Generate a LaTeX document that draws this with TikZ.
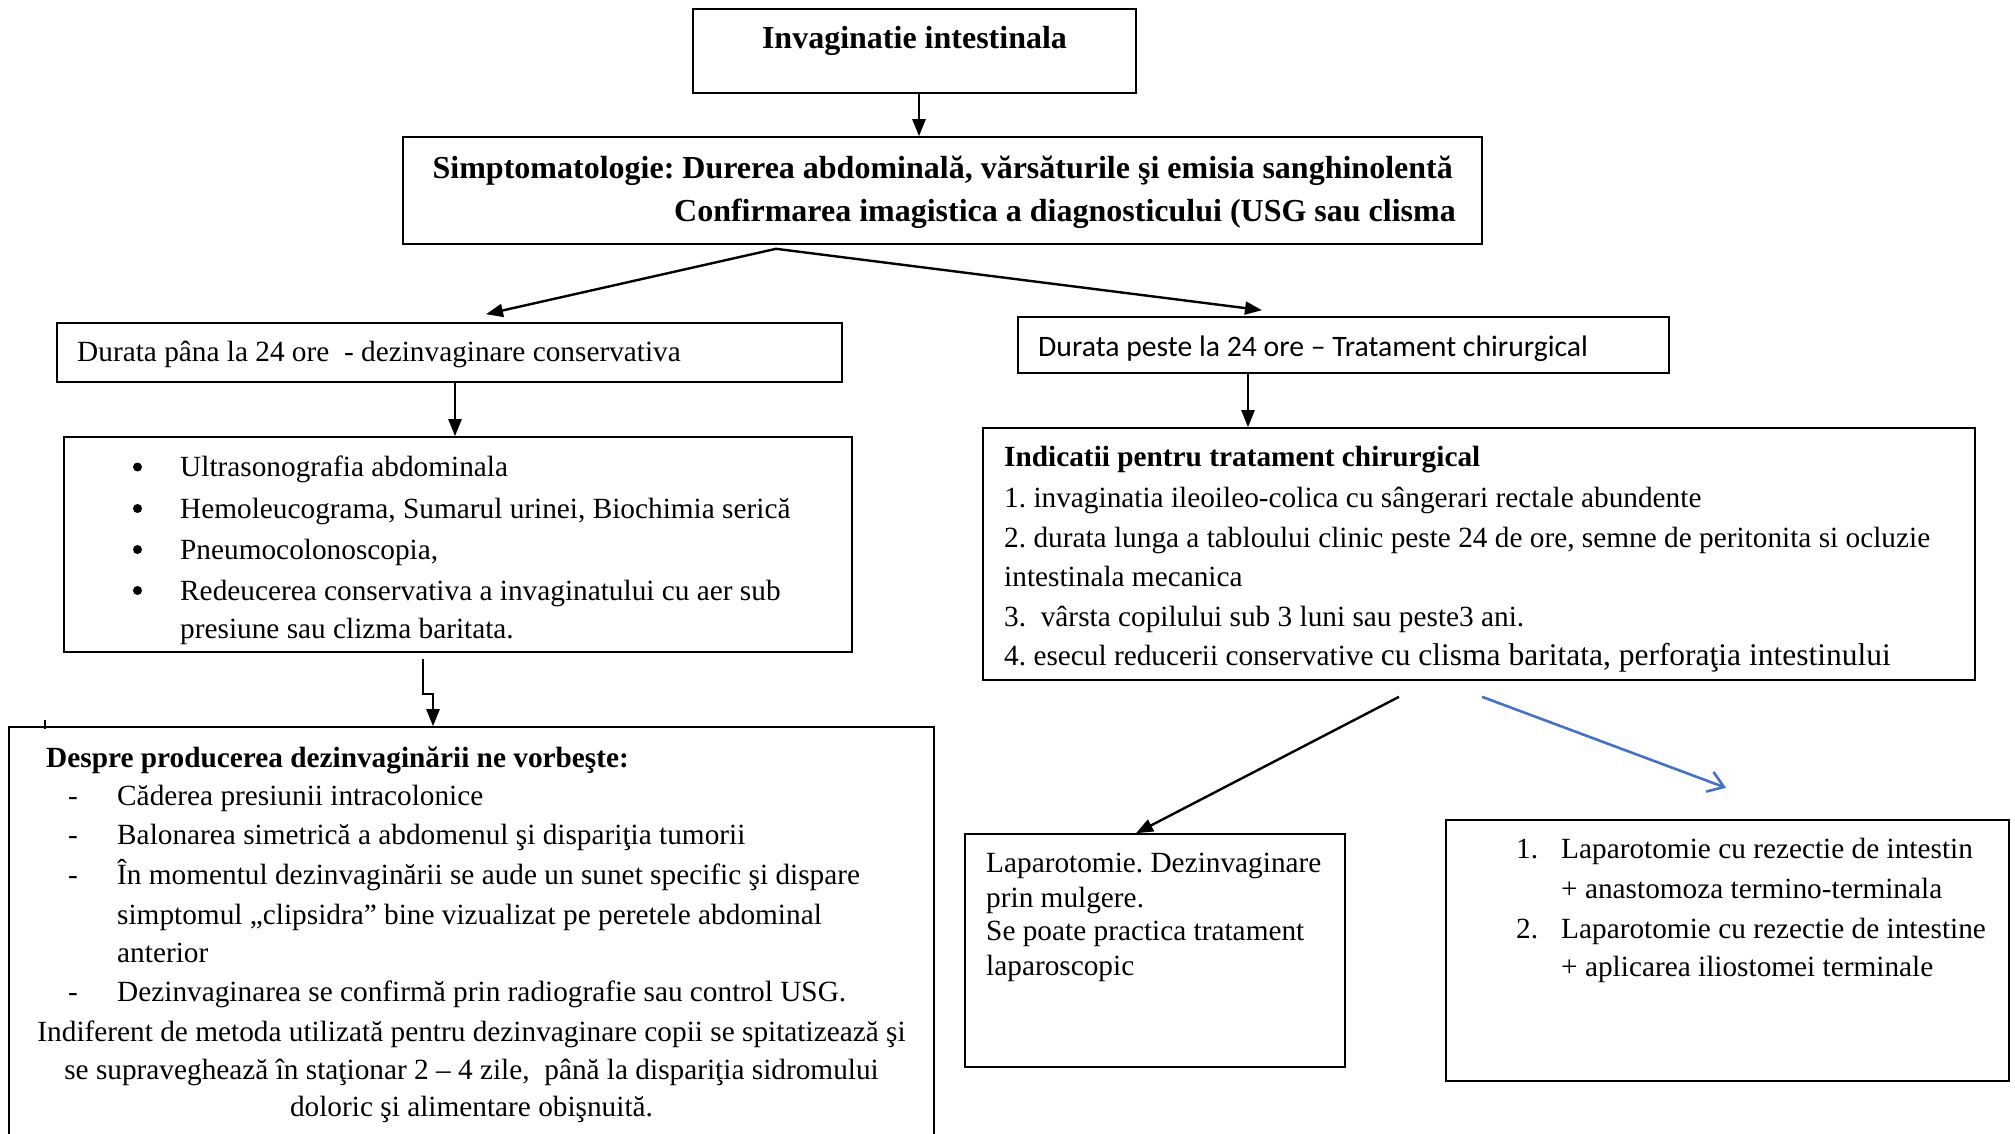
\documentclass[tikz,border=0pt]{standalone}
\usepackage{fontspec}
\setmainfont{Liberation Serif}
\newfontfamily\calib{Carlito}
\usetikzlibrary{arrows.meta,calc}
\definecolor{wordblue}{HTML}{4472C4}
\frenchspacing
\begin{document}
\begin{tikzpicture}[x=1pt,y=-1pt,
  box/.style={draw,line width=1.6pt,inner sep=0pt},
  conn/.style={line width=2.4pt,line join=miter,-{Triangle[length=17pt,width=13pt]}},
  t/.style={inner sep=0pt,anchor=base west,font=\fontsize{29.3}{35}\selectfont},
  tb/.style={inner sep=0pt,anchor=base west,font=\fontsize{29.3}{35}\selectfont\bfseries},
  tbig/.style={inner sep=0pt,anchor=base west,font=\fontsize{32}{38}\selectfont\bfseries},
  bul/.style={inner sep=0pt,anchor=base,font=\fontsize{29.3}{35}\selectfont},
  dot/.style={circle,fill,inner sep=0pt,minimum size=9pt},
]
\useasboundingbox (0,0) rectangle (2015,1133);
\fill[white] (0,0) rectangle (2015,1133);

% boxes
\node[box,minimum width=443pt,minimum height=84pt] (top) at (914.5,51) {};
\node[box,minimum width=1079pt,minimum height=107pt] (sym) at (942.5,190.5) {};
\node[box,minimum width=785pt,minimum height=59pt] (dl) at (449.5,352.5) {};
\node[box,minimum width=651pt,minimum height=56pt] (dr) at (1343.5,345) {};
\node[box,minimum width=788pt,minimum height=215pt] (bul) at (458,544.5) {};
\node[box,minimum width=992pt,minimum height=252pt] (ind) at (1479,554) {};
\node[box,minimum width=925pt,minimum height=411pt] (desp) at (471.5,932.5) {};
\node[box,minimum width=380pt,minimum height=233pt] (lap) at (1155,950.5) {};
\node[box,line width=2.4pt,minimum width=563pt,minimum height=261pt] (rez) at (1727.5,950.5) {};
\draw[line width=1.4pt] (45,720) -- (45,729);

% texts
\node[tbig,anchor=base] (ttop) at (914.5,48) {Invaginatie intestinala};
\node[tbig,anchor=base east] (s1) at (1453,178) {Simptomatologie: Durerea abdominală, vărsăturile şi emisia sanghinolentă};
\node[tbig,anchor=base east] (s2) at (1456,221) {Confirmarea imagistica a diagnosticului (USG sau clisma};
\node[t] (tdl) at (77,361) {Durata pâna la 24 ore\ \ - dezinvaginare conservativa};
\node[t,font=\fontsize{29.7}{35}\selectfont\calib] (tdr) at (1038,356) {Durata peste la 24 ore – Tratament chirurgical};

\node[dot] (b1) at (137.5,467) {};
\node[dot] (b2) at (137.5,508.5) {};
\node[dot] (b3) at (137.5,549.5) {};
\node[dot] (b4) at (137.5,590.5) {};
\node[t] (u1) at (180,476) {Ultrasonografia abdominala};
\node[t] (u2) at (180,518) {Hemoleucograma, Sumarul urinei, Biochimia serică};
\node[t] (u3) at (180,559) {Pneumocolonoscopia,};
\node[t] (u4) at (180,600) {Redeucerea conservativa a invaginatului cu aer sub};
\node[t] (u5) at (180,638) {presiune sau clizma baritata.};

\node[tb] (i0) at (1004,466) {Indicatii pentru tratament chirurgical};
\node[t] (i1) at (1004,507) {1. invaginatia ileoileo-colica cu sângerari rectale abundente};
\node[t] (i2) at (1004,547) {2. durata lunga a tabloului clinic peste 24 de ore, semne de peritonita si ocluzie};
\node[t] (i3) at (1004,586) {intestinala mecanica};
\node[t] (i4) at (1004,626) {3.\ \ vârsta copilului sub 3 luni sau peste3 ani.};
\node[t] (i5) at (1004,665) {4. esecul reducerii conservative {\fontsize{31.5}{35}\selectfont cu clisma baritata, perforaţia intestinului}};

\node[tb] (d0) at (46,767) {Despre producerea dezinvaginării ne vorbeşte:};
\node[bul] (dd1) at (73,805) {-};
\node[bul] (dd2) at (73,844) {-};
\node[bul] (dd3) at (73,884) {-};
\node[bul] (dd4) at (73,1001) {-};
\node[t] (d1) at (117,805) {Căderea presiunii intracolonice};
\node[t] (d2) at (117,844) {Balonarea simetrică a abdomenul şi dispariţia tumorii};
\node[t] (d3) at (117,884) {În momentul dezinvaginării se aude un sunet specific şi dispare};
\node[t] (d4) at (117,924) {simptomul „clipsidra” bine vizualizat pe peretele abdominal};
\node[t] (d5) at (117,962) {anterior};
\node[t] (d6) at (117,1001) {Dezinvaginarea se confirmă prin radiografie sau control USG.};
\node[bul] (c1) at (471.5,1041) {Indiferent de metoda utilizată pentru dezinvaginare copii se spitatizează şi};
\node[bul] (c2) at (471.5,1079) {se supraveghează în staţionar 2 – 4 zile,\ \ până la dispariţia sidromului};
\node[bul] (c3) at (471.5,1116) {doloric şi alimentare obişnuită.};

\node[t] (l1) at (986,872) {Laparotomie. Dezinvaginare};
\node[t] (l2) at (986,907) {prin mulgere.};
\node[t] (l3) at (986,940) {Se poate practica tratament};
\node[t] (l4) at (986,975) {laparoscopic};

\node[t] (r1n) at (1516,858) {1.};
\node[t] (r1) at (1561,858) {Laparotomie cu rezectie de intestin};
\node[t] (r1b) at (1561,898) {+ anastomoza termino-terminala};
\node[t] (r2n) at (1516,938) {2.};
\node[t] (r2) at (1561,938) {Laparotomie cu rezectie de intestine};
\node[t] (r2b) at (1561,976) {+ aplicarea iliostomei terminale};

% connectors
\draw[conn] ([xshift=4.5pt]top.south) -- ([xshift=-23.5pt]sym.north);
\coordinate (fork) at ([xshift=-166.5pt,yshift=-4pt]sym.south);
\draw[conn] (fork) -- ([xshift=36.5pt,yshift=8pt]dl.north);
\draw[conn] (fork) -- ([xshift=-81.5pt,yshift=6pt]dr.north);
\draw[conn] ([xshift=5.5pt]dl.south) -- ([xshift=-3pt]bul.north);
\draw[conn] ([xshift=-95.5pt]dr.south) -- ([xshift=-231pt]ind.north);
\draw[conn] ([xshift=-35pt,yshift=-6pt]bul.south) -- ++(0,35) -- ++(10,0) -- ([xshift=-38.5pt]desp.north);
\draw[conn] ([xshift=-80pt,yshift=-16pt]ind.south) -- ([xshift=-19pt]lap.north);
\draw[line width=2.6pt,wordblue,-{Straight Barb[length=15pt,width=21pt]}] ([xshift=3pt,yshift=-16pt]ind.south) -- ([xshift=-1.5pt,yshift=31pt]rez.north);
\end{tikzpicture}
\end{document}
